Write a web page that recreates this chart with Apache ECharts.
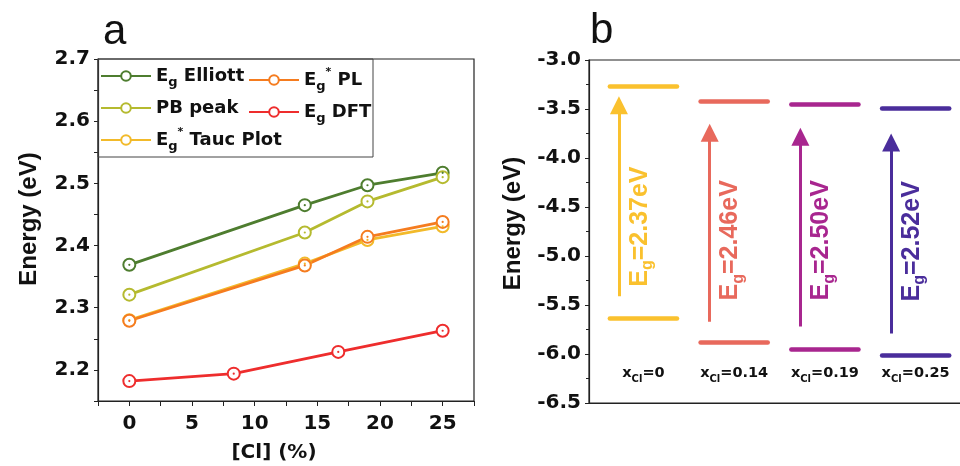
<!DOCTYPE html>
<html><head><meta charset="utf-8">
<script src="https://cdn.jsdelivr.net/npm/echarts@6/dist/echarts.min.js"></script>
<style>html,body{margin:0;padding:0;background:#fff}#c{width:960px;height:466px}</style>
</head><body><div id="c"></div>
<script>
// ---------- Panel a data ----------
const clPercent = [0, 14, 19, 25];
const dftPercent = [0, 8.33, 16.67, 25];
const egElliott = [2.369, 2.465, 2.497, 2.517];
const pbPeak = [2.321, 2.421, 2.471, 2.510];
const egTauc = [2.280, 2.371, 2.409, 2.431];
const egPL = [2.279, 2.368, 2.414, 2.438];
const egDFT = [2.182, 2.194, 2.229, 2.263];
const xTickLabelsA = [0, 5, 10, 15, 20, 25];
const yTickLabelsA = ['2.2', '2.3', '2.4', '2.5', '2.6', '2.7'];

// ---------- Panel b data ----------
const levelPos = [0.6, 1.6, 2.6, 3.6];
const compositions = ['0', '0.14', '0.19', '0.25'];
const cbm = [-3.27, -3.42, -3.45, -3.49];
const vbm = [-5.64, -5.88, -5.95, -6.01];
const gapLabels = ['2.37', '2.46', '2.50', '2.52'];
const gapLabelY = [-4.70, -4.84, -4.84, -4.85];
const arrowStart = [-5.41, -5.67, -5.72, -5.79];
const arrowTip = [-3.37, -3.65, -3.69, -3.75];
const yTickLabelsB = ['-6.5', '-6.0', '-5.5', '-5.0', '-4.5', '-4.0', '-3.5', '-3.0'];

const FONT = 'Liberation Sans, Arial, sans-serif';
const WFONT = 'DejaVu Sans, Liberation Sans, sans-serif';
const levelColors = ['#FAC12E', '#E8695C', '#A8268F', '#4A2D9B'];
const HEAD = 0.092; // half arrow-head height in axis units

function zip(xs, ys) { return xs.map((x, i) => [x, ys[i]]); }

const seriesDefs = [
  { name: 'Elliott', x: clPercent, y: egElliott, color: '#4E7D2F' },
  { name: 'PB', x: clPercent, y: pbPeak, color: '#B5BA2F' },
  { name: 'Tauc', x: clPercent, y: egTauc, color: '#F2BA2A' },
  { name: 'PL', x: clPercent, y: egPL, color: '#F57C1F' },
  { name: 'DFT', x: dftPercent, y: egDFT, color: '#EE2D2D' }
];
const legendText = {
  'Elliott': '{t|E}{s|g}{t| Elliott}',
  'PB': '{t|PB peak}',
  'Tauc': '{t|E}{s|g}{p|*}{t| Tauc Plot}',
  'PL': '{t|E}{s|g}{p|*}{t| PL}',
  'DFT': '{t|E}{s|g}{t| DFT}'
};
const legendRich = {
  t: { fontFamily: WFONT, fontWeight: 'bold', fontSize: 18, color: '#111', lineHeight: 26, verticalAlign: 'middle' },
  s: { fontFamily: WFONT, fontWeight: 'bold', fontSize: 13, color: '#111', lineHeight: 26, verticalAlign: 'bottom' },
  p: { fontFamily: WFONT, fontWeight: 'bold', fontSize: 11, color: '#111', lineHeight: 26, verticalAlign: 'top' }
};

const series = [];
seriesDefs.forEach(d => {
  series.push({
    type: 'line', name: d.name, xAxisIndex: 0, yAxisIndex: 0,
    data: zip(d.x, d.y), symbol: 'emptyCircle', symbolSize: 12,
    lineStyle: { color: d.color, width: 2.8 },
    itemStyle: { color: d.color, borderColor: d.color, borderWidth: 1.4 },
    z: 3
  });
});
seriesDefs.forEach(d => {
  series.push({
    type: 'scatter', name: 'dot-' + d.name, xAxisIndex: 0, yAxisIndex: 0,
    data: zip(d.x, d.y), symbolSize: 2.2, itemStyle: { color: d.color, opacity: 1 }, silent: true, z: 4
  });
});

// panel b levels
const levelLines = [];
levelPos.forEach((p, i) => {
  levelLines.push({ coords: [[p - 0.37, cbm[i]], [p + 0.37, cbm[i]]], lineStyle: { color: levelColors[i] } });
  levelLines.push({ coords: [[p - 0.37, vbm[i]], [p + 0.37, vbm[i]]], lineStyle: { color: levelColors[i] } });
});
series.push({
  type: 'lines', coordinateSystem: 'cartesian2d', xAxisIndex: 1, yAxisIndex: 1,
  data: levelLines, lineStyle: { width: 4.5, opacity: 1, cap: 'round' }, symbol: 'none', silent: true
});
series.push({
  type: 'lines', coordinateSystem: 'cartesian2d', xAxisIndex: 1, yAxisIndex: 1,
  data: levelPos.map((p, i) => ({
    coords: [[p - 0.27, arrowStart[i]], [p - 0.27, arrowTip[i] - HEAD]],
    lineStyle: { color: levelColors[i] }
  })),
  lineStyle: { width: 3, opacity: 1 }, symbol: ['none', 'triangle'], symbolSize: [1, 18], silent: true
});
series.push({
  type: 'scatter', xAxisIndex: 1, yAxisIndex: 1, symbolSize: 0, silent: true,
  itemStyle: { opacity: 1 },
  data: levelPos.map((p, i) => ({
    value: [p - 0.04, gapLabelY[i]],
    label: { formatter: '{e|E}{g|g}{e|=' + gapLabels[i] + 'eV}', color: levelColors[i] }
  })),
  label: {
    show: true, position: 'inside', rotate: 90, opacity: 1,
    rich: {
      e: { fontFamily: FONT, fontWeight: 'bold', fontSize: 25, lineHeight: 32, verticalAlign: 'middle' },
      g: { fontFamily: FONT, fontWeight: 'bold', fontSize: 16, lineHeight: 32, verticalAlign: 'bottom' }
    }
  }
});
series.push({
  type: 'scatter', xAxisIndex: 1, yAxisIndex: 1, symbolSize: 0, silent: true,
  itemStyle: { opacity: 1 },
  data: levelPos.map((p, i) => ({
    value: [p, -6.2],
    label: { formatter: '{x|x}{c|Cl}{x|=' + compositions[i] + '}' }
  })),
  label: {
    show: true, position: 'inside', color: '#111', opacity: 1,
    rich: {
      x: { fontFamily: WFONT, fontWeight: 'bold', fontSize: 14.5, lineHeight: 22, verticalAlign: 'middle', color: '#111' },
      c: { fontFamily: WFONT, fontWeight: 'bold', fontSize: 10, lineHeight: 22, verticalAlign: 'bottom', color: '#111' }
    }
  }
});

const axisLabelStyle = { fontFamily: WFONT, fontWeight: 'bold', fontSize: 20, color: '#111' };
const axisLine = { show: true, onZero: false, lineStyle: { color: '#222', width: 1.2 } };

const option = {
  animation: false,
  backgroundColor: '#fff',
  grid: [
    { left: 98, top: 59, width: 376, height: 342, show: true, borderColor: '#222', borderWidth: 1.2, containLabel: false, outerBoundsMode: 'none' },
    { left: 589, top: 60, width: 372, height: 343, show: true, borderColor: '#222', borderWidth: 1.2, containLabel: false, outerBoundsMode: 'none' }
  ],
  xAxis: [
    {
      type: 'value', gridIndex: 0, min: -2.5, max: 27.5, interval: 2.5,
      axisLine, splitLine: { show: false },
      axisTick: { show: true, length: 5, lineStyle: { color: '#222' } },
      axisLabel: Object.assign({ margin: 13, formatter: v => xTickLabelsA.indexOf(Math.round(v * 100) / 100) >= 0 ? String(Math.round(v)) : '' }, axisLabelStyle),
      name: '[Cl] (%)', nameLocation: 'middle', nameGap: 42,
      nameTextStyle: { fontFamily: WFONT, fontWeight: 'bold', fontSize: 20, color: '#111', padding: [0, 24, 0, 0] }
    },
    {
      type: 'value', gridIndex: 1, min: 0, max: 4.1,
      axisLine, splitLine: { show: false }, axisTick: { show: false }, axisLabel: { show: false }
    }
  ],
  yAxis: [
    {
      type: 'value', gridIndex: 0, min: 2.15, max: 2.7, interval: 0.05,
      axisLine, splitLine: { show: false },
      axisTick: { show: true, length: 4, lineStyle: { color: '#222' } },
      axisLabel: Object.assign({ margin: 8, formatter: v => { const s = v.toFixed(2); return yTickLabelsA.indexOf(v.toFixed(1)) >= 0 && s.endsWith('0') ? v.toFixed(1) : ''; } }, axisLabelStyle),
      name: 'Energy (eV)', nameLocation: 'middle', nameGap: 57,
      nameTextStyle: { fontFamily: FONT, fontWeight: 'bold', fontSize: 24, color: '#111', padding: [0, 0, 0, 22] }
    },
    {
      type: 'value', gridIndex: 1, min: -6.5, max: -3.0, interval: 0.5,
      axisLine, splitLine: { show: false },
      axisTick: { show: true, length: 4, lineStyle: { color: '#222' } },
      minorTick: { show: true, splitNumber: 2, length: 3, lineStyle: { color: '#222' } },
      axisLabel: Object.assign({ margin: 8, formatter: v => { const s = v.toFixed(1); return yTickLabelsB.indexOf(s) >= 0 ? s : ''; } }, axisLabelStyle),
      name: 'Energy (eV)', nameLocation: 'middle', nameGap: 64,
      nameTextStyle: { fontFamily: FONT, fontWeight: 'bold', fontSize: 24, color: '#111', padding: [0, 0, 0, 16] }
    }
  ],
  legend: [
    {
      orient: 'vertical', left: 100, top: 67, padding: 0, itemGap: 10, itemWidth: 50, itemHeight: 12,
      data: ['Elliott', 'PB', 'Tauc'], formatter: n => legendText[n],
      textStyle: { rich: legendRich }, selectedMode: false
    },
    {
      orient: 'vertical', left: 248, top: 67, padding: 0, itemGap: 10, itemWidth: 50, itemHeight: 12,
      data: ['PL', 'DFT'], formatter: n => legendText[n],
      textStyle: { rich: legendRich }, selectedMode: false
    }
  ],
  graphic: [
    { type: 'rect', shape: { x: 98, y: 59, width: 275, height: 98 }, style: { fill: 'none', stroke: '#444', lineWidth: 1 }, z: 10 },
    { type: 'text', left: 103, top: 11, style: { text: 'a', font: '42px ' + FONT, fill: '#111' } },
    { type: 'text', left: 590, top: 10, style: { text: 'b', font: '42px ' + FONT, fill: '#111' } }
  ],
  series
};

const chart = echarts.init(document.getElementById('c'), null, { renderer: 'canvas' });
chart.setOption(option);
</script>
</body></html>
